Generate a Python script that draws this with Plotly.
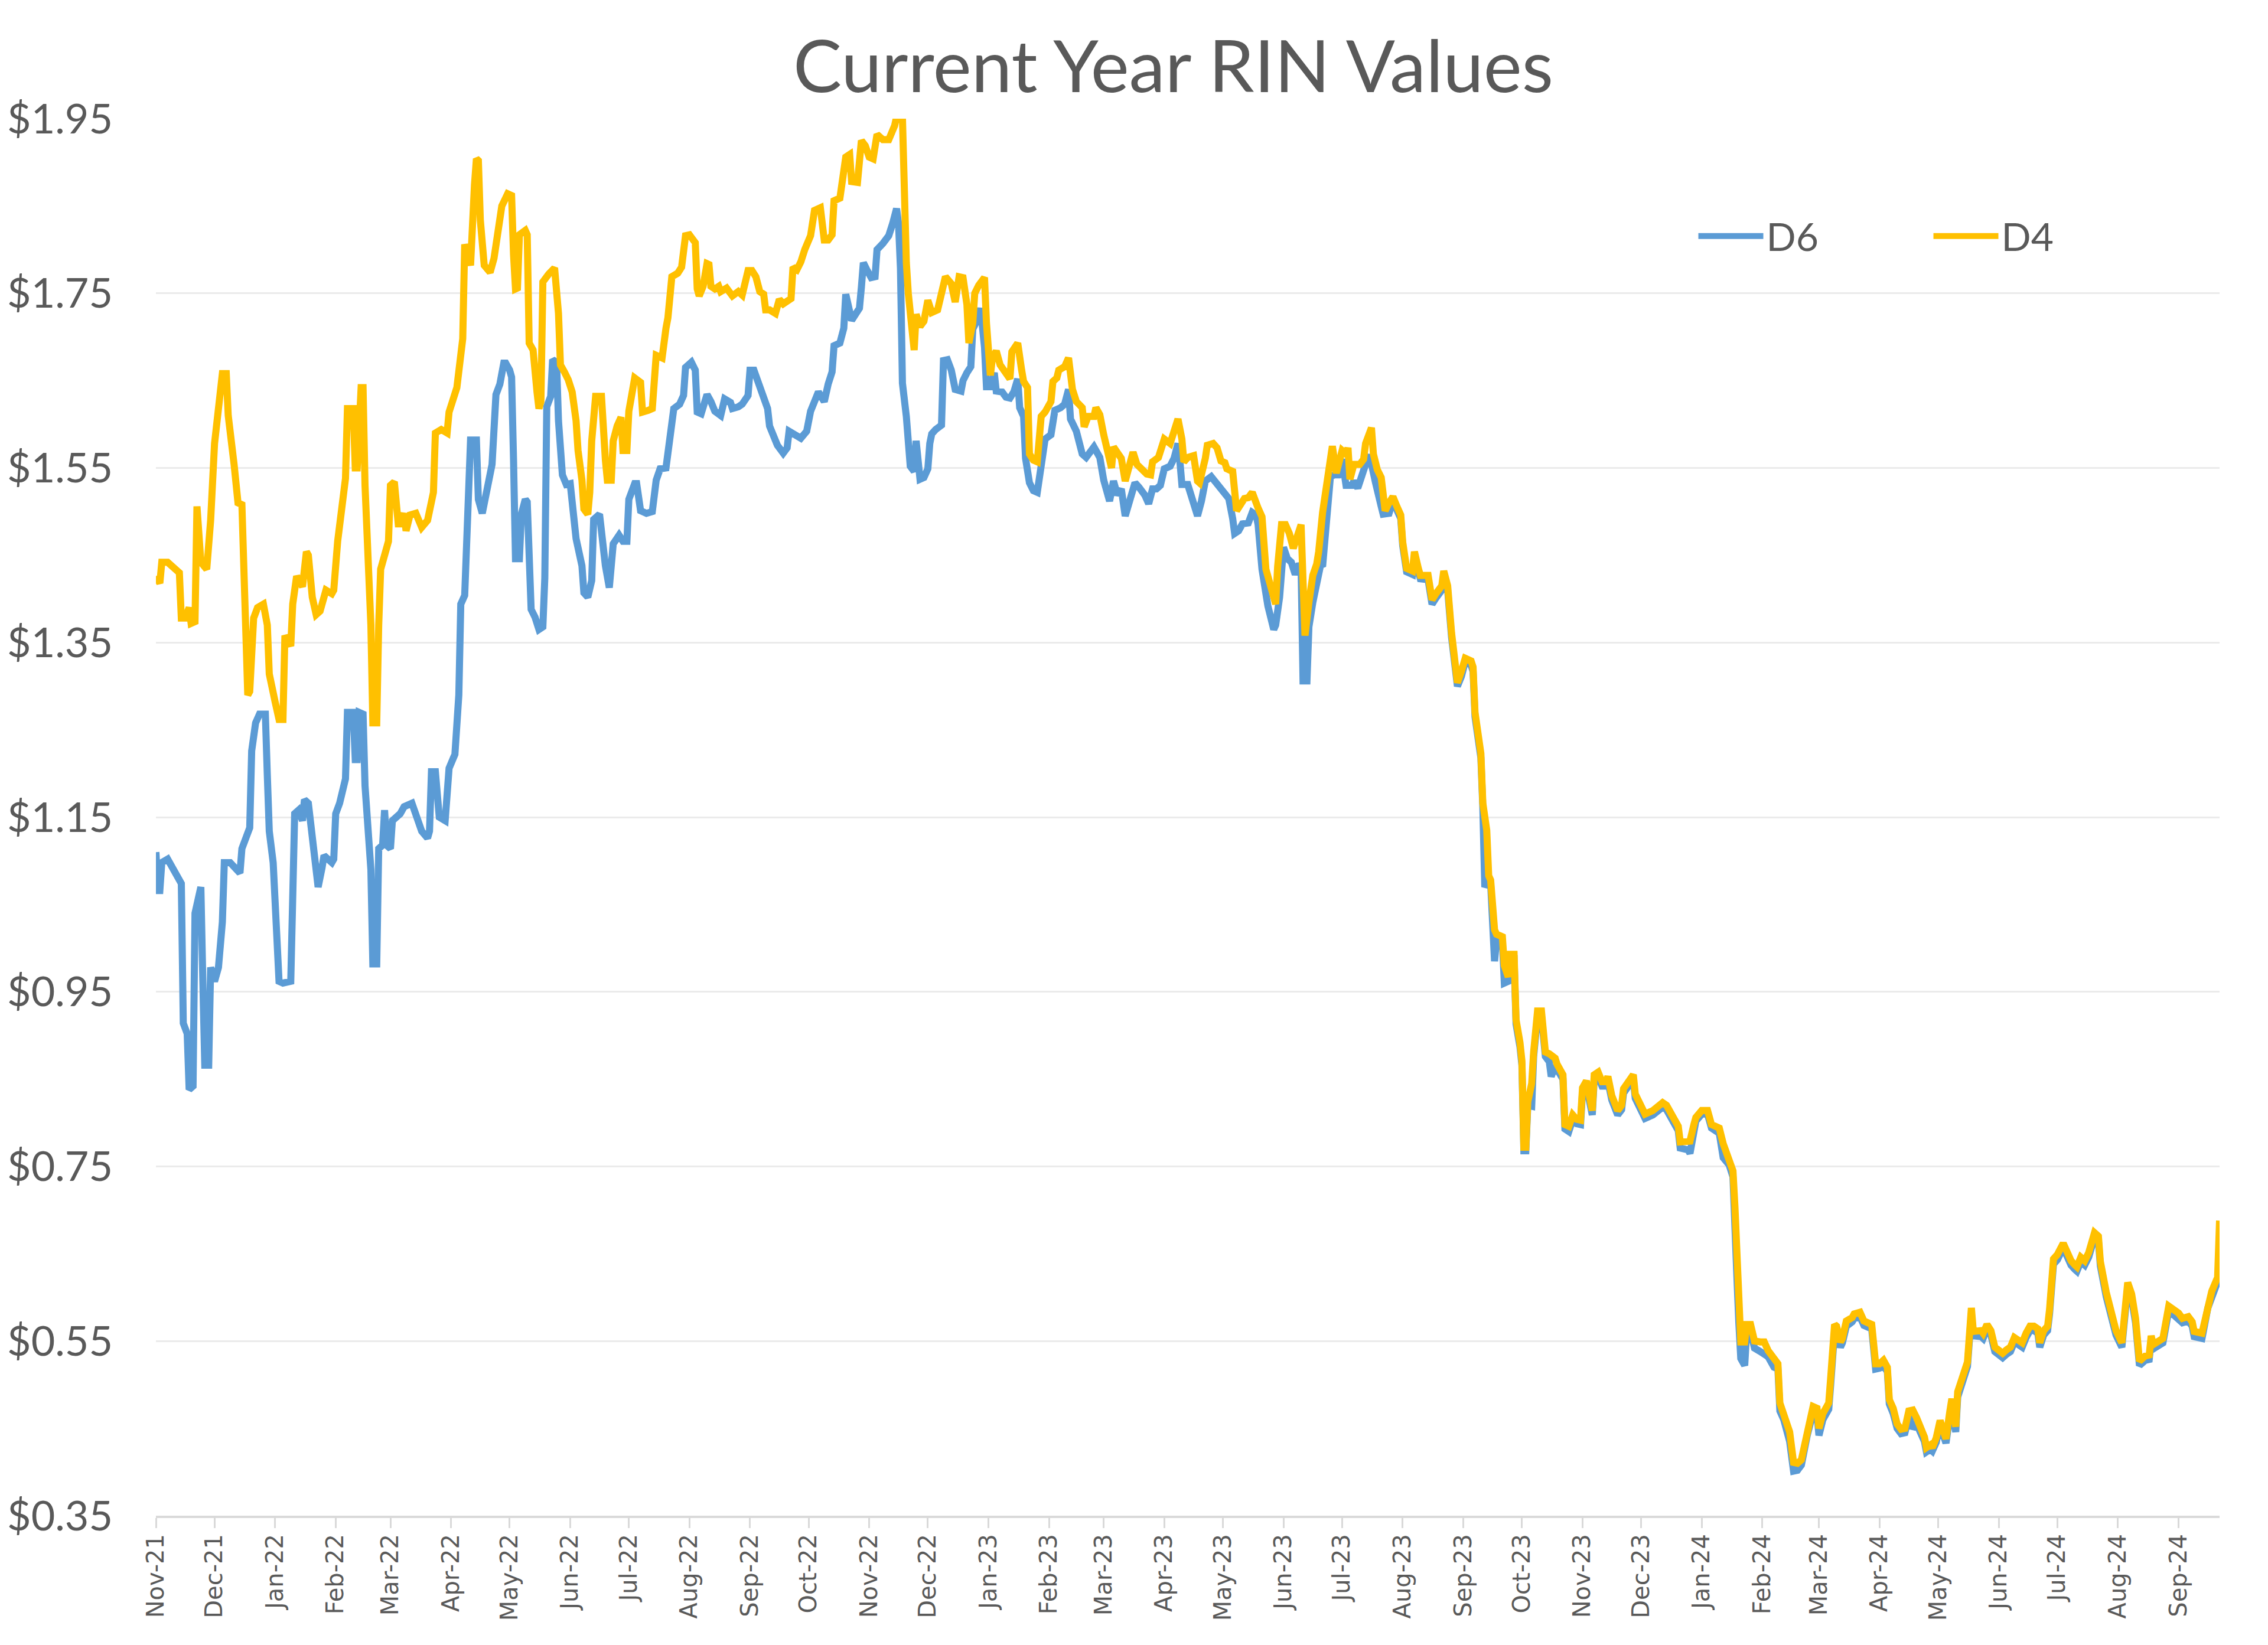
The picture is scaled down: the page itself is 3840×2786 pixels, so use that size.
import plotly.graph_objects as go

# ---------------- data ----------------
D4_DATES = [
    "2021-11-01","2021-11-03","2021-11-04","2021-11-07","2021-11-13","2021-11-14","2021-11-16","2021-11-18","2021-11-19","2021-11-21",
    "2021-11-22","2021-11-24","2021-11-27","2021-11-29","2021-12-01","2021-12-03","2021-12-05","2021-12-07","2021-12-08","2021-12-11",
    "2021-12-13","2021-12-15","2021-12-18","2021-12-19","2021-12-21","2021-12-23","2021-12-26","2021-12-28","2021-12-29","2022-01-01",
    "2022-01-03","2022-01-05","2022-01-06","2022-01-09","2022-01-10","2022-01-12","2022-01-15","2022-01-17","2022-01-18","2022-01-20",
    "2022-01-22","2022-01-24","2022-01-27","2022-01-30","2022-01-31","2022-02-02","2022-02-04","2022-02-06","2022-02-07","2022-02-10",
    "2022-02-11","2022-02-12","2022-02-14","2022-02-15","2022-02-16","2022-02-18","2022-02-19","2022-02-20","2022-02-22","2022-02-23",
    "2022-02-24","2022-02-28","2022-03-01","2022-03-03","2022-03-05","2022-03-06","2022-03-08","2022-03-09","2022-03-11","2022-03-14",
    "2022-03-17","2022-03-20","2022-03-22","2022-03-23","2022-03-24","2022-03-27","2022-03-30","2022-03-31","2022-04-04","2022-04-06",
    "2022-04-07","2022-04-08","2022-04-11","2022-04-13","2022-04-14","2022-04-15","2022-04-16","2022-04-18","2022-04-21","2022-04-23",
    "2022-04-26","2022-04-27","2022-04-30","2022-05-02","2022-05-03","2022-05-04","2022-05-05","2022-05-06","2022-05-09","2022-05-10",
    "2022-05-11","2022-05-13","2022-05-15","2022-05-16","2022-05-17","2022-05-18","2022-05-21","2022-05-24","2022-05-26","2022-05-27",
    "2022-05-29","2022-05-31","2022-06-02","2022-06-04","2022-06-05","2022-06-07","2022-06-08","2022-06-10","2022-06-11","2022-06-12",
    "2022-06-14","2022-06-17","2022-06-19","2022-06-20","2022-06-22","2022-06-23","2022-06-25","2022-06-27","2022-06-28","2022-06-30",
    "2022-07-01","2022-07-03","2022-07-04","2022-07-07","2022-07-08","2022-07-11","2022-07-13","2022-07-15","2022-07-18","2022-07-20",
    "2022-07-21","2022-07-23","2022-07-26","2022-07-28","2022-07-30","2022-08-01","2022-08-04","2022-08-05","2022-08-06","2022-08-08",
    "2022-08-10","2022-08-11","2022-08-12","2022-08-14","2022-08-16","2022-08-17","2022-08-20","2022-08-22","2022-08-23","2022-08-26",
    "2022-08-28","2022-08-31","2022-09-02","2022-09-04","2022-09-06","2022-09-08","2022-09-09","2022-09-11","2022-09-14","2022-09-16",
    "2022-09-18","2022-09-22","2022-09-23","2022-09-25","2022-09-27","2022-09-29","2022-10-02","2022-10-04","2022-10-07","2022-10-09",
    "2022-10-11","2022-10-13","2022-10-14","2022-10-17","2022-10-20","2022-10-22","2022-10-23","2022-10-26","2022-10-27","2022-10-28",
    "2022-10-30","2022-11-01","2022-11-03","2022-11-05","2022-11-08","2022-11-11","2022-11-14","2022-11-15","2022-11-18","2022-11-19",
    "2022-11-20","2022-11-21","2022-11-23","2022-11-24","2022-11-25","2022-11-27","2022-11-29","2022-12-01","2022-12-03","2022-12-06",
    "2022-12-08","2022-12-10","2022-12-13","2022-12-15","2022-12-17","2022-12-19","2022-12-21","2022-12-22","2022-12-24","2022-12-25",
    "2022-12-27","2022-12-30","2022-12-31","2023-01-02","2023-01-03","2023-01-05","2023-01-07","2023-01-09","2023-01-12","2023-01-13",
    "2023-01-16","2023-01-18","2023-01-19","2023-01-21","2023-01-22","2023-01-24","2023-01-26","2023-01-28","2023-01-30","2023-02-02",
    "2023-02-03","2023-02-05","2023-02-06","2023-02-09","2023-02-11","2023-02-13","2023-02-15","2023-02-18","2023-02-19","2023-02-21",
    "2023-02-24","2023-02-25","2023-02-27","2023-03-01","2023-03-03","2023-03-05","2023-03-06","2023-03-08","2023-03-10","2023-03-12",
    "2023-03-13","2023-03-16","2023-03-18","2023-03-20","2023-03-23","2023-03-25","2023-03-26","2023-03-29","2023-03-30","2023-04-01",
    "2023-04-04","2023-04-05","2023-04-08","2023-04-10","2023-04-11","2023-04-13","2023-04-16","2023-04-18","2023-04-19","2023-04-22",
    "2023-04-23","2023-04-26","2023-04-28","2023-04-30","2023-05-02","2023-05-03","2023-05-06","2023-05-08","2023-05-10","2023-05-12",
    "2023-05-14","2023-05-16","2023-05-19","2023-05-21","2023-05-23","2023-05-26","2023-05-28","2023-05-29","2023-05-31","2023-06-02",
    "2023-06-04","2023-06-06","2023-06-08","2023-06-10","2023-06-11","2023-06-12","2023-06-14","2023-06-16","2023-06-18","2023-06-19",
    "2023-06-21","2023-06-23","2023-06-26","2023-06-28","2023-06-30","2023-07-01","2023-07-03","2023-07-04","2023-07-05","2023-07-07",
    "2023-07-10","2023-07-12","2023-07-13","2023-07-16","2023-07-17","2023-07-19","2023-07-21","2023-07-23","2023-07-25","2023-07-27",
    "2023-07-29","2023-07-31","2023-08-01","2023-08-03","2023-08-06","2023-08-07","2023-08-09","2023-08-10","2023-08-14","2023-08-16",
    "2023-08-18","2023-08-21","2023-08-22","2023-08-24","2023-08-26","2023-08-29","2023-08-31","2023-09-02","2023-09-05","2023-09-06",
    "2023-09-07","2023-09-08","2023-09-10","2023-09-11","2023-09-13","2023-09-14","2023-09-15","2023-09-17","2023-09-18","2023-09-21",
    "2023-09-22","2023-09-24","2023-09-25","2023-09-27","2023-09-28","2023-09-30","2023-10-01","2023-10-02","2023-10-03","2023-10-04",
    "2023-10-06","2023-10-07","2023-10-09","2023-10-11","2023-10-12","2023-10-13","2023-10-15","2023-10-16","2023-10-18","2023-10-19",
    "2023-10-22","2023-10-23","2023-10-25","2023-10-27","2023-10-29","2023-10-31",
]
D4_VALUES = [
    1.426,1.418,1.442,1.442,1.430,1.378,1.378,1.390,1.372,1.374,
    1.506,1.442,1.434,1.490,1.578,1.618,1.658,1.658,1.610,1.554,
    1.510,1.508,1.290,1.294,1.378,1.390,1.394,1.370,1.314,1.282,
    1.262,1.262,1.358,1.346,1.394,1.426,1.414,1.454,1.450,1.402,
    1.382,1.386,1.410,1.406,1.410,1.466,1.506,1.538,1.618,1.618,
    1.550,1.550,1.642,1.642,1.530,1.442,1.370,1.258,1.258,1.370,
    1.434,1.466,1.530,1.534,1.486,1.486,1.498,1.478,1.496,1.498,
    1.482,1.490,1.514,1.522,1.590,1.594,1.590,1.614,1.642,1.694,
    1.698,1.806,1.782,1.874,1.904,1.902,1.834,1.782,1.774,1.790,
    1.846,1.850,1.864,1.862,1.794,1.755,1.756,1.817,1.822,1.817,
    1.693,1.685,1.637,1.618,1.626,1.763,1.772,1.779,1.727,1.668,
    1.660,1.651,1.637,1.604,1.570,1.536,1.503,1.497,1.522,1.581,
    1.632,1.632,1.559,1.536,1.536,1.581,1.598,1.608,1.570,1.570,
    1.615,1.643,1.653,1.648,1.614,1.616,1.618,1.679,1.676,1.710,
    1.722,1.769,1.773,1.780,1.816,1.817,1.808,1.755,1.747,1.758,
    1.784,1.783,1.758,1.755,1.758,1.752,1.756,1.750,1.747,1.752,
    1.748,1.776,1.776,1.769,1.752,1.749,1.731,1.731,1.727,1.743,
    1.738,1.744,1.780,1.777,1.786,1.800,1.816,1.845,1.848,1.811,
    1.811,1.817,1.856,1.859,1.906,1.909,1.878,1.877,1.894,1.925,
    1.919,1.906,1.904,1.932,1.926,1.926,1.942,1.952,1.951,1.830,
    1.785,1.750,1.716,1.685,1.726,1.712,1.718,1.742,1.728,1.731,
    1.750,1.769,1.761,1.740,1.769,1.768,1.737,1.693,1.716,1.750,
    1.759,1.768,1.716,1.656,1.675,1.684,1.668,1.662,1.652,1.683,
    1.693,1.662,1.649,1.642,1.566,1.559,1.557,1.609,1.614,1.626,
    1.649,1.653,1.662,1.666,1.676,1.640,1.626,1.619,1.597,1.609,
    1.609,1.619,1.611,1.588,1.568,1.550,1.574,1.568,1.561,1.535,
    1.545,1.568,1.554,1.550,1.543,1.542,1.557,1.562,1.568,1.583,
    1.578,1.587,1.606,1.583,1.557,1.562,1.564,1.535,1.533,1.561,
    1.576,1.578,1.573,1.558,1.556,1.549,1.546,1.501,1.510,1.515,
    1.516,1.522,1.504,1.494,1.434,1.406,1.394,1.437,1.485,1.485,
    1.475,1.458,1.473,1.485,1.420,1.358,1.396,1.427,1.440,1.454,
    1.499,1.530,1.575,1.544,1.561,1.570,1.566,1.573,1.537,1.554,
    1.554,1.560,1.578,1.596,1.566,1.548,1.539,1.501,1.510,1.517,
    1.506,1.496,1.465,1.435,1.432,1.454,1.435,1.427,1.427,1.399,
    1.406,1.415,1.432,1.415,1.361,1.304,1.317,1.332,1.329,1.322,
    1.270,1.249,1.223,1.166,1.135,1.083,1.078,1.021,1.016,1.013,
    0.980,0.967,0.993,0.993,0.918,0.892,0.871,0.772,0.772,0.824,
    0.845,0.881,0.928,0.928,0.907,0.881,0.879,0.877,0.874,0.867,
    0.855,0.798,0.796,0.809,0.804,0.803,
]

# Nov-2023 onward: both series share the same observation dates
LATE_DATES = [
    "2023-11-01","2023-11-03","2023-11-04","2023-11-06","2023-11-07","2023-11-09","2023-11-11","2023-11-13","2023-11-14","2023-11-16",
    "2023-11-19","2023-11-21","2023-11-22","2023-11-25","2023-11-27","2023-11-28","2023-11-30","2023-12-03","2023-12-07","2023-12-10",
    "2023-12-12","2023-12-14","2023-12-16","2023-12-19","2023-12-20","2023-12-21","2023-12-25","2023-12-26","2023-12-28","2023-12-29",
    "2024-01-01","2024-01-04","2024-01-06","2024-01-10","2024-01-12","2024-01-15","2024-01-17","2024-01-18","2024-01-19","2024-01-20",
    "2024-01-21","2024-01-23","2024-01-24","2024-01-26","2024-01-28","2024-01-31","2024-02-02","2024-02-04","2024-02-07","2024-02-09",
    "2024-02-10","2024-02-12","2024-02-15","2024-02-17","2024-02-19","2024-02-21","2024-02-24","2024-02-27","2024-02-29","2024-03-01",
    "2024-03-03","2024-03-06","2024-03-07","2024-03-09","2024-03-10","2024-03-12","2024-03-13","2024-03-15","2024-03-18","2024-03-19",
    "2024-03-22","2024-03-24","2024-03-28","2024-03-30","2024-04-01","2024-04-03","2024-04-05","2024-04-06","2024-04-08","2024-04-10",
    "2024-04-12","2024-04-14","2024-04-16","2024-04-18","2024-04-20","2024-04-22","2024-04-24","2024-04-25","2024-04-27","2024-04-28",
    "2024-04-30","2024-05-02","2024-05-03","2024-05-05","2024-05-07","2024-05-08","2024-05-09","2024-05-10","2024-05-11","2024-05-13",
    "2024-05-15","2024-05-16","2024-05-18","2024-05-19","2024-05-23","2024-05-24","2024-05-26","2024-05-28","2024-05-30","2024-06-01",
    "2024-06-03","2024-06-05","2024-06-07","2024-06-09","2024-06-11","2024-06-13","2024-06-15","2024-06-17","2024-06-19","2024-06-21",
    "2024-06-22","2024-06-24","2024-06-26","2024-06-27","2024-06-29","2024-07-01","2024-07-04","2024-07-06","2024-07-08","2024-07-10",
    "2024-07-11","2024-07-13","2024-07-15","2024-07-17","2024-07-20","2024-07-22","2024-07-23","2024-07-26","2024-07-28","2024-07-29",
    "2024-07-31","2024-08-03","2024-08-04","2024-08-06","2024-08-08","2024-08-10","2024-08-12","2024-08-15","2024-08-17","2024-08-18",
    "2024-08-19","2024-08-22","2024-08-24","2024-08-27","2024-08-30","2024-09-01","2024-09-03","2024-09-06","2024-09-08","2024-09-09",
    "2024-09-13","2024-09-16","2024-09-18","2024-09-21","2024-09-22",
]
D4_LATE = [
    0.840,0.848,0.835,0.814,0.855,0.858,0.847,0.847,0.853,0.831,
    0.814,0.820,0.839,0.847,0.855,0.833,0.825,0.810,0.814,0.820,
    0.823,0.820,0.812,0.802,0.796,0.778,0.778,0.779,0.798,0.806,
    0.814,0.814,0.798,0.794,0.776,0.760,0.745,0.704,0.630,0.577,
    0.549,0.549,0.569,0.569,0.550,0.549,0.549,0.539,0.528,0.524,
    0.479,0.467,0.446,0.411,0.410,0.414,0.450,0.475,0.473,0.450,
    0.467,0.479,0.508,0.569,0.567,0.549,0.553,0.573,0.577,0.581,
    0.583,0.573,0.569,0.524,0.524,0.528,0.520,0.483,0.473,0.455,
    0.449,0.450,0.470,0.471,0.462,0.450,0.440,0.428,0.431,0.428,
    0.439,0.459,0.450,0.438,0.470,0.484,0.464,0.452,0.492,0.506,
    0.520,0.526,0.588,0.561,0.562,0.559,0.569,0.562,0.543,0.539,
    0.536,0.540,0.543,0.554,0.550,0.548,0.559,0.567,0.567,0.564,
    0.548,0.562,0.567,0.586,0.644,0.649,0.662,0.652,0.642,0.637,
    0.635,0.646,0.642,0.651,0.674,0.670,0.641,0.606,0.585,0.579,
    0.562,0.548,0.571,0.617,0.604,0.576,0.527,0.533,0.534,0.556,
    0.546,0.550,0.553,0.590,0.585,0.582,0.576,0.578,0.572,0.561,
    0.559,0.593,0.607,0.623,0.688,
]
D6_LATE = [
    0.835,0.843,0.830,0.809,0.850,0.853,0.842,0.842,0.848,0.826,
    0.809,0.815,0.834,0.842,0.850,0.828,0.820,0.805,0.809,0.815,
    0.818,0.815,0.807,0.797,0.791,0.771,0.769,0.765,0.790,0.802,
    0.810,0.810,0.794,0.788,0.760,0.752,0.738,0.698,0.624,0.571,
    0.530,0.522,0.560,0.562,0.542,0.538,0.535,0.532,0.520,0.518,
    0.470,0.460,0.435,0.401,0.402,0.408,0.442,0.468,0.466,0.442,
    0.460,0.472,0.500,0.562,0.560,0.543,0.548,0.567,0.572,0.576,
    0.578,0.568,0.564,0.518,0.519,0.522,0.515,0.478,0.467,0.450,
    0.444,0.445,0.464,0.450,0.455,0.445,0.435,0.423,0.426,0.424,
    0.434,0.454,0.445,0.433,0.465,0.478,0.458,0.446,0.486,0.501,
    0.514,0.521,0.582,0.556,0.555,0.553,0.564,0.557,0.538,0.534,
    0.531,0.535,0.538,0.549,0.545,0.543,0.554,0.562,0.562,0.559,
    0.543,0.557,0.562,0.581,0.638,0.643,0.657,0.647,0.637,0.632,
    0.630,0.641,0.637,0.646,0.669,0.665,0.636,0.601,0.580,0.574,
    0.557,0.543,0.566,0.612,0.599,0.571,0.522,0.528,0.529,0.551,
    0.541,0.545,0.548,0.585,0.579,0.576,0.571,0.573,0.567,0.555,
    0.553,0.588,0.602,0.618,0.640,
]

D6_DATES = [
    "2021-11-01","2021-11-02","2021-11-03","2021-11-04","2021-11-07","2021-11-12","2021-11-14","2021-11-15","2021-11-17","2021-11-18",
    "2021-11-20","2021-11-21","2021-11-23","2021-11-24","2021-11-25","2021-11-26","2021-11-28","2021-11-29","2021-12-01","2021-12-03",
    "2021-12-05","2021-12-06","2021-12-09","2021-12-12","2021-12-14","2021-12-15","2021-12-19","2021-12-20","2021-12-22","2021-12-24",
    "2021-12-27","2021-12-28","2021-12-29","2021-12-31","2022-01-01","2022-01-03","2022-01-05","2022-01-09","2022-01-11","2022-01-13",
    "2022-01-15","2022-01-16","2022-01-18","2022-01-20","2022-01-21","2022-01-23","2022-01-25","2022-01-26","2022-01-30","2022-01-31",
    "2022-02-01","2022-02-03","2022-02-06","2022-02-07","2022-02-10","2022-02-11","2022-02-12","2022-02-13","2022-02-15","2022-02-16",
    "2022-02-18","2022-02-19","2022-02-20","2022-02-22","2022-02-23","2022-02-25","2022-02-26","2022-02-27","2022-03-01","2022-03-02",
    "2022-03-06","2022-03-08","2022-03-12","2022-03-14","2022-03-17","2022-03-20","2022-03-21","2022-03-22","2022-03-24","2022-03-26",
    "2022-03-29","2022-03-31","2022-04-03","2022-04-05","2022-04-06","2022-04-08","2022-04-10","2022-04-11","2022-04-14","2022-04-15",
    "2022-04-17","2022-04-20","2022-04-22","2022-04-24","2022-04-26","2022-04-28","2022-04-29","2022-05-01","2022-05-02","2022-05-03",
    "2022-05-04","2022-05-06","2022-05-07","2022-05-09","2022-05-10","2022-05-12","2022-05-14","2022-05-16","2022-05-18","2022-05-19",
    "2022-05-20","2022-05-22","2022-05-23","2022-05-25","2022-05-26","2022-05-28","2022-05-30","2022-06-01","2022-06-02","2022-06-04",
    "2022-06-07","2022-06-08","2022-06-10","2022-06-12","2022-06-13","2022-06-16","2022-06-19","2022-06-21","2022-06-23","2022-06-26",
    "2022-06-28","2022-06-30","2022-07-01","2022-07-04","2022-07-05","2022-07-07","2022-07-10","2022-07-13","2022-07-15","2022-07-17",
    "2022-07-20","2022-07-22","2022-07-24","2022-07-27","2022-07-29","2022-07-30","2022-08-02","2022-08-04","2022-08-05","2022-08-07",
    "2022-08-10","2022-08-12","2022-08-14","2022-08-17","2022-08-19","2022-08-22","2022-08-23","2022-08-26","2022-08-28","2022-08-31",
    "2022-09-01","2022-09-03","2022-09-07","2022-09-10","2022-09-11","2022-09-13","2022-09-15","2022-09-18","2022-09-20","2022-09-21",
    "2022-09-24","2022-09-27","2022-09-30","2022-10-02","2022-10-06","2022-10-09","2022-10-11","2022-10-13","2022-10-14","2022-10-17",
    "2022-10-19","2022-10-20","2022-10-23","2022-10-26","2022-10-27","2022-10-28","2022-10-29","2022-10-31","2022-11-02","2022-11-04",
    "2022-11-05","2022-11-08","2022-11-11","2022-11-13","2022-11-15","2022-11-16","2022-11-17","2022-11-18","2022-11-20","2022-11-22",
    "2022-11-24","2022-11-25","2022-11-27","2022-11-29","2022-12-01","2022-12-02","2022-12-03","2022-12-05","2022-12-08","2022-12-09",
    "2022-12-11","2022-12-13","2022-12-15","2022-12-18","2022-12-19","2022-12-21","2022-12-23","2022-12-24","2022-12-27","2022-12-28",
    "2022-12-30","2022-12-31","2023-01-02","2023-01-04","2023-01-05","2023-01-08","2023-01-10","2023-01-12","2023-01-14","2023-01-16",
    "2023-01-17","2023-01-19","2023-01-20","2023-01-22","2023-01-24","2023-01-26","2023-01-28","2023-01-30","2023-02-02","2023-02-04",
    "2023-02-07","2023-02-09","2023-02-11","2023-02-12","2023-02-15","2023-02-16","2023-02-18","2023-02-20","2023-02-22","2023-02-24",
    "2023-02-27","2023-03-01","2023-03-04","2023-03-06","2023-03-08","2023-03-10","2023-03-12","2023-03-14","2023-03-17","2023-03-19",
    "2023-03-22","2023-03-24","2023-03-26","2023-03-28","2023-03-30","2023-04-01","2023-04-04","2023-04-06","2023-04-08","2023-04-09",
    "2023-04-10","2023-04-13","2023-04-16","2023-04-18","2023-04-20","2023-04-22","2023-04-25","2023-04-27","2023-04-29","2023-05-02",
    "2023-05-04","2023-05-06","2023-05-07","2023-05-09","2023-05-11","2023-05-14","2023-05-16","2023-05-18","2023-05-19","2023-05-21",
    "2023-05-24","2023-05-27","2023-05-28","2023-05-30","2023-06-01","2023-06-03","2023-06-05","2023-06-07","2023-06-09","2023-06-10",
    "2023-06-11","2023-06-13","2023-06-14","2023-06-16","2023-06-18","2023-06-20","2023-06-21","2023-06-23","2023-06-25","2023-06-27",
    "2023-06-29","2023-07-01","2023-07-03","2023-07-06","2023-07-07","2023-07-09","2023-07-11","2023-07-13","2023-07-15","2023-07-17",
    "2023-07-18","2023-07-21","2023-07-22","2023-07-25","2023-07-27","2023-07-29","2023-07-31","2023-08-01","2023-08-03","2023-08-06",
    "2023-08-07","2023-08-09","2023-08-10","2023-08-14","2023-08-16","2023-08-18","2023-08-21","2023-08-22","2023-08-24","2023-08-26",
    "2023-08-29","2023-08-31","2023-09-02","2023-09-05","2023-09-06","2023-09-07","2023-09-08","2023-09-10","2023-09-11","2023-09-12",
    "2023-09-14","2023-09-15","2023-09-17","2023-09-18","2023-09-21","2023-09-22","2023-09-24","2023-09-25","2023-09-27","2023-09-28",
    "2023-09-30","2023-10-01","2023-10-02","2023-10-03","2023-10-04","2023-10-06","2023-10-07","2023-10-09","2023-10-11","2023-10-12",
    "2023-10-13","2023-10-15","2023-10-16","2023-10-18","2023-10-19","2023-10-22","2023-10-23","2023-10-25","2023-10-27","2023-10-29",
    "2023-10-31",
]
D6_VALUES = [
    1.110,1.066,1.066,1.098,1.102,1.082,1.074,0.914,0.902,0.838,
    0.842,1.040,1.066,1.070,0.962,0.866,0.866,0.978,0.962,0.978,
    1.030,1.098,1.098,1.090,1.086,1.114,1.138,1.226,1.258,1.268,
    1.268,1.198,1.134,1.098,1.042,0.962,0.960,0.962,1.154,1.158,
    1.146,1.170,1.166,1.122,1.106,1.070,1.092,1.106,1.098,1.102,
    1.154,1.166,1.194,1.270,1.270,1.216,1.216,1.270,1.268,1.186,
    1.122,1.090,0.982,0.982,1.114,1.118,1.158,1.118,1.114,1.146,
    1.154,1.162,1.166,1.154,1.134,1.126,1.134,1.202,1.202,1.150,
    1.146,1.206,1.222,1.290,1.394,1.404,1.534,1.582,1.582,1.514,
    1.498,1.538,1.554,1.634,1.646,1.670,1.670,1.662,1.654,1.559,
    1.446,1.446,1.497,1.514,1.511,1.388,1.379,1.365,1.368,1.424,
    1.620,1.632,1.674,1.671,1.604,1.542,1.531,1.532,1.511,1.469,
    1.438,1.407,1.402,1.421,1.491,1.497,1.438,1.413,1.463,1.473,
    1.466,1.466,1.514,1.532,1.532,1.501,1.498,1.500,1.536,1.549,
    1.550,1.580,1.618,1.623,1.633,1.665,1.671,1.662,1.614,1.612,
    1.634,1.626,1.615,1.610,1.629,1.625,1.618,1.620,1.623,1.633,
    1.662,1.662,1.634,1.618,1.598,1.587,1.576,1.567,1.573,1.592,
    1.587,1.584,1.592,1.615,1.637,1.626,1.646,1.660,1.690,1.693,
    1.710,1.749,1.719,1.730,1.733,1.757,1.785,1.776,1.768,1.769,
    1.800,1.807,1.816,1.830,1.847,1.830,1.778,1.647,1.609,1.552,
    1.546,1.581,1.537,1.539,1.549,1.578,1.589,1.594,1.599,1.673,
    1.674,1.662,1.640,1.638,1.650,1.659,1.666,1.709,1.723,1.733,
    1.688,1.643,1.643,1.659,1.638,1.637,1.631,1.630,1.637,1.652,
    1.619,1.609,1.561,1.533,1.524,1.522,1.561,1.583,1.588,1.616,
    1.619,1.623,1.640,1.606,1.592,1.583,1.566,1.562,1.568,1.574,
    1.562,1.536,1.512,1.535,1.519,1.526,1.495,1.512,1.533,1.528,
    1.519,1.509,1.526,1.526,1.530,1.549,1.552,1.561,1.578,1.557,
    1.531,1.531,1.509,1.495,1.512,1.535,1.540,1.535,1.530,1.523,
    1.515,1.492,1.475,1.478,1.486,1.487,1.499,1.496,1.485,1.434,
    1.392,1.365,1.370,1.402,1.459,1.446,1.442,1.428,1.440,1.437,
    1.306,1.306,1.368,1.396,1.416,1.439,1.437,1.500,1.540,1.542,
    1.542,1.560,1.530,1.530,1.535,1.527,1.544,1.554,1.565,1.537,
    1.534,1.506,1.497,1.498,1.513,1.502,1.492,1.461,1.431,1.428,
    1.450,1.431,1.423,1.422,1.394,1.401,1.410,1.428,1.410,1.356,
    1.300,1.311,1.328,1.324,1.317,1.265,1.244,1.218,1.161,1.070,
    1.078,1.074,0.985,1.010,1.008,0.960,0.962,0.988,0.988,0.913,
    0.887,0.866,0.768,0.768,0.820,0.819,0.876,0.923,0.923,0.902,
    0.876,0.870,0.853,0.865,0.862,0.850,0.793,0.790,0.804,0.799,
    0.798,
]

SERIES_NAMES = ["D6", "D4"]
SERIES_COLORS = ["#5B9BD5", "#FFC000"]
TITLE = "Current Year RIN Values"

# ---------------- figure ----------------
d6_x = D6_DATES + LATE_DATES
d6_y = D6_VALUES + D6_LATE
d4_x = D4_DATES + LATE_DATES
d4_y = D4_VALUES + D4_LATE

fig = go.Figure()
fig.add_trace(go.Scatter(x=d6_x, y=d6_y, mode="lines", name=SERIES_NAMES[0],
                         line=dict(color=SERIES_COLORS[0], width=12)))
fig.add_trace(go.Scatter(x=d4_x, y=d4_y, mode="lines", name=SERIES_NAMES[1],
                         line=dict(color=SERIES_COLORS[1], width=12)))

TXT = "#595959"
fig.update_layout(
    width=3824, height=2770,
    margin=dict(l=256, r=74, t=193, b=211, pad=0, autoexpand=False),
    paper_bgcolor="white", plot_bgcolor="white",
    font=dict(family="Lato", color=TXT),
    title=dict(text=TITLE, font=dict(family="Lato", size=123, color=TXT),
               x=0.493, xref="paper", xanchor="center",
               y=0.962, yref="container", yanchor="middle"),
    showlegend=True,
    legend=dict(orientation="h", x=0.746, xanchor="left", y=0.916, yanchor="middle",
                font=dict(family="Lato", size=66, color=TXT),
                itemwidth=110, entrywidth=273, entrywidthmode="pixels",
                bgcolor="rgba(0,0,0,0)"),
    xaxis=dict(type="date", range=["2021-11-01", "2024-09-22"],
               tick0="2021-11-01", dtick="M1", tickformat="%b-%y", tickangle=-90,
               tickfont=dict(family="DejaVu Sans", size=40, color=TXT),
               showgrid=False, zeroline=False,
               showline=True, linecolor="#D9D9D9", linewidth=4,
               ticks="outside", ticklen=17, tickwidth=3, tickcolor="#D9D9D9",
               ticklabelstandoff=-6, automargin=False),
    yaxis=dict(range=[0.35, 1.95], tick0=0.35, dtick=0.2,
               tickprefix="$", tickformat=".2f",
               tickfont=dict(family="Lato", size=70, color=TXT),
               showgrid=True, gridcolor="#EBEBEB", gridwidth=3,
               zeroline=False, showline=False, ticks="",
               ticklabelstandoff=72, automargin=False),
)

fig.write_html("out.html")
